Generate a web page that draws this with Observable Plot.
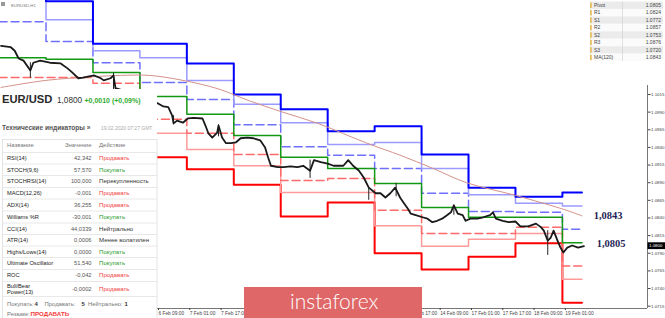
<!DOCTYPE html>
<html><head><meta charset="utf-8">
<script src="https://cdn.jsdelivr.net/npm/d3@7"></script>
<script src="https://cdn.jsdelivr.net/npm/@observablehq/plot@0.6"></script>
<style>
body{margin:0;background:#fff;}
#wrap{position:relative;width:665px;height:318px;overflow:hidden;background:#fff;}
#wrap svg{position:absolute;left:0;top:0;}
</style></head><body><div id="wrap"></div>
<script>
// ---- data (bar index: 0 = 6 Feb 09:00, H1 bars) ----
const dayStart = [-81,-57,-33,-9,15,39,63,87,111,135,159,183,207];
const lastBar = 217;
const r3 = [1.1205,1.1147,1.1087,1.1087,1.1059,1.1015,1.0994,1.0963,1.0970,1.0930,1.0883,1.0870,1.0876];
const r2 = [1.1177,1.1121,1.1077,1.1067,1.1035,1.1001,1.0975,1.0944,1.0947,1.0910,1.0873,1.0861,1.0857];
const r1 = [1.1118,1.1090,1.1060,1.1032,1.1008,1.0972,1.0941,1.0929,1.0910,1.0875,1.0849,1.0848,1.0824];
const pv = [1.1067,1.1065,1.1046,1.1012,1.0987,1.0957,1.0926,1.0910,1.0889,1.0855,1.0841,1.0841,1.0805];
const s1 = [1.1039,1.1039,1.1031,1.0980,1.0960,1.0930,1.0893,1.0896,1.0851,1.0818,1.0818,1.0827,1.0772];
const s2 = [1.0992,1.1008,1.1015,1.0960,1.0937,1.0914,1.0876,1.0876,1.0829,1.0800,1.0810,1.0818,1.0753];
const s3 = [1.0964,1.0982,1.1001,1.0926,1.0909,1.0887,1.0842,1.0862,1.0790,1.0767,1.0785,1.0804,1.0720];

const maBar = [-80,-57,-34,-19,-4,13,31,47,64,82,99,109,124,141,158,183,209,217];
const maVal = [1.1025,1.1035,1.1040,1.1042,1.1042,1.1035,1.1023,1.1006,1.0990,1.0974,1.0955,1.0944,1.0929,1.0910,1.0890,1.0872,1.0851,1.0843];

const priceBar = [-80,-75,-73,-71,-68.5,-65,-63.5,-60,-55,-49.5,-46,-43.5,-40.5,-38,-32.5,-29,-27.5,-24,-22.5,-21.5,-19,0.5,3,5.5,7.5,8.2,10,13,15.5,18.5,23,24.5,26,28,30.5,31.2,33,35,37.5,40,42.5,46,49,52.5,55,56.5,58,61.5,64.5,68,71.5,74.5,78,80,83.5,87,90,95,97.5,100,103,105.5,108,111.5,114,116.5,119,121.5,124,126,128,129.5,132,135.5,138,140.5,143,145.5,148,150,151.5,153.5,156,157.5,160,163.5,166.5,170,171.5,173,176.5,179.5,183,185.5,189.5,193.5,196,197.5,199.5,201,202.5,204.5,206,207.5,209.5,212,215,218];
const priceVal = [1.1084,1.1082,1.1077,1.1066,1.1063,1.1049,1.1060,1.1063,1.1060,1.1059,1.1052,1.1046,1.1038,1.1039,1.1042,1.1038,1.1035,1.1038,1.1042,1.1024,1.1022,1.1002,1.0998,1.0997,1.0985,1.0974,1.0978,1.0975,1.0981,1.0982,1.0981,1.0971,1.0960,1.0954,1.0961,1.0971,1.0954,1.0946,1.0946,1.0947,1.0953,1.0954,1.0953,1.0950,1.0940,1.0926,1.0914,1.0912,1.0912,1.0913,1.0912,1.0914,1.0907,1.0922,1.0919,1.0917,1.0914,1.0914,1.0922,1.0914,1.0907,1.0897,1.0883,1.0875,1.0875,1.0869,1.0875,1.0883,1.0869,1.0861,1.0853,1.0846,1.0844,1.0841,1.0839,1.0834,1.0836,1.0839,1.0844,1.0848,1.0858,1.0846,1.0844,1.0836,1.0839,1.0839,1.0841,1.0844,1.0848,1.0839,1.0836,1.0834,1.0835,1.0828,1.0828,1.0832,1.0827,1.0822,1.0808,1.0812,1.0822,1.0808,1.0798,1.0791,1.0798,1.0801,1.0798,1.0800];

const wickBar = [-65,-22.5,8.2,31.2,78,108,122,151.5,199.5];
const wickHi  = [1.1060,1.1045,1.0985,1.0972,1.0922,1.0883,1.0889,1.0858,1.0822];
const wickLo  = [1.1038,1.1022,1.0972,1.0955,1.0896,1.0865,1.0870,1.0844,1.0787];

const yTicks = [1.0715,1.0740,1.0765,1.0790,1.0815,1.0840,1.0865,1.0890,1.0915,1.0940,1.0965,1.0990,1.1015];
// labels that the logo hides in the reference are left out
const xTickBars = [0,16,32,128,144,160,176,192,208];
const xTickLabels = ["6 Feb 09:00","7 Feb 01:00","7 Feb 17:00","13 Feb 17:00","14 Feb 09:00","17 Feb 01:00","17 Feb 17:00","18 Feb 09:00","19 Feb 01:00"];

const annText = ["1,0843","1,0805"];
const annBar = [223,224.5];
const annVal = [1.0843,1.0804];

const lastPrice = 1.0800;

const pivotLabels = ["Pivot","R1","S1","R2","S2","R3","S3","MA(120)"];
const pivotValues = [1.0805,1.0824,1.0772,1.0857,1.0753,1.0876,1.0720,1.0843];

const indNames = ["RSI(14)","STOCH(9,6)","STOCHRSI(14)","MACD(12,26)","ADX(14)","Williams %R","CCI(14)","ATR(14)","Highs/Lows(14)","Ultimate Oscillator","ROC","Bull/Bear Power(13)"];
const indValues = ["42,342","57,570","100,000","-0,001","36,255","-30,001","44,0339","0,0006","0,0000","51,540","-0,042","-0,0002"];
const indActions = ["Продавать","Покупать","Перекупленность","Продавать","Продавать","Покупать","Нейтрально","Менее волатилен","Покупать","Покупать","Продавать","Продавать"];

// ---- build ----
const steps = vals => dayStart.map((b,i)=>({bar:b, v:vals[i]})).concat([{bar:lastBar, v:vals[vals.length-1]}]);
const maData = maBar.map((b,i)=>({bar:b, v:maVal[i]}));
const priceData = priceBar.map((b,i)=>({bar:b, v:priceVal[i]}));
const wicks = wickBar.map((b,i)=>({bar:b, hi:wickHi[i], lo:wickLo[i]}));
const annots = annText.map((t,i)=>({t, bar:annBar[i], v:annVal[i]}));
const xLab = new Map(xTickBars.map((b,i)=>[b, xTickLabels[i]]));

const lvl = (vals, stroke, w, dash) => Plot.line(steps(vals), {x:"bar", y:"v", curve:"step-after", stroke, strokeWidth:w, strokeDasharray:dash, clip:true});

const plot = Plot.plot({
  width:665, height:318,
  marginTop:0, marginRight:18, marginBottom:10, marginLeft:0,
  x:{domain:[-80.27,250.5], label:null},
  y:{domain:[1.07117,1.11482], label:null},
  style:{fontFamily:"'Liberation Sans', Arial, sans-serif", background:"transparent", overflow:"visible"},
  marks:[
    Plot.ruleY([1.07117], {stroke:"#777", strokeWidth:1}),
    Plot.ruleX([250.5], {stroke:"#777", strokeWidth:1}),
    Plot.axisY({ticks:yTicks, anchor:"right", label:null, tickFormat:d=>d.toFixed(4), fontSize:4.4, tickSize:2.5, tickPadding:1, color:"#444"}),
    Plot.axisX({ticks:xTickBars, anchor:"bottom", label:null, tickFormat:d=>xLab.get(d), fontSize:4.8, tickSize:2, tickPadding:1, textAnchor:"start", dx:1, color:"#444"}),
    lvl(s3, "#ff0000", 2),
    lvl(s2, "#ff9a9a", 1.5),
    lvl(s1, "#ff6a6a", 1.5, "8,4"),
    lvl(r1, "#7070ff", 1.5, "8,4"),
    lvl(r2, "#9a9aff", 1.5),
    lvl(r3, "#0000ff", 2),
    lvl(pv, "#119911", 1.5),
    Plot.line(maData, {x:"bar", y:"v", curve:"catmull-rom", stroke:"#d4928a", strokeWidth:1, clip:true}),
    Plot.ruleX(wicks, {x:"bar", y1:"lo", y2:"hi", stroke:"#222", strokeWidth:1}),
    Plot.line(priceData, {x:"bar", y:"v", stroke:"#1a1a1a", strokeWidth:1.8, clip:true}),
    Plot.text(annots, {x:"bar", y:"v", text:"t", textAnchor:"start", fontFamily:"'Liberation Serif', 'DejaVu Serif', serif", fontWeight:"bold", fontSize:10.5, fill:"#1f1f55"})
  ]
});
const wrap = document.getElementById("wrap");
wrap.appendChild(plot);
const ys = plot.scale("y");

// ---- overlays ----
const svg = d3.create("svg").attr("width",665).attr("height",318)
  .style("font-family","'Liberation Sans', Arial, sans-serif");

// last price tag on axis
const yp = ys.apply(lastPrice);
svg.append("rect").attr("x",647.5).attr("y",yp-3.4).attr("width",17.5).attr("height",6.8).attr("fill","#000");
svg.append("text").attr("x",649).attr("y",yp+1.6).attr("font-size",4.4).attr("fill","#fff").text(lastPrice.toFixed(4));

// top-left symbol caption
svg.append("rect").attr("x",1).attr("y",2).attr("width",4).attr("height",4).attr("fill","#999");
svg.append("text").attr("x",11).attr("y",6.5).attr("font-size",4.3).attr("fill","#777").text("EURUSD,H1");

// pivot table (top right)
svg.append("rect").attr("x",585).attr("y",0).attr("width",80).attr("height",85).attr("fill","#fff");
pivotLabels.forEach((lab,i)=>{
  const top = 1.5 + 7.45*i;
  svg.append("rect").attr("x",590).attr("y",top).attr("width",73).attr("height",7.45).attr("fill", i%2===0 ? "#ebebeb" : "#fbfbfb");
  svg.append("rect").attr("x",590).attr("y",top+1).attr("width",1.8).attr("height",5.5).attr("fill","#e8bd62");
  svg.append("text").attr("x",594).attr("y",top+5.4).attr("font-size",5).attr("fill","#444").text(lab);
  svg.append("text").attr("x",661).attr("y",top+5.4).attr("font-size",5).attr("fill","#444").attr("text-anchor","end").text(pivotValues[i].toFixed(4));
});
svg.append("line").attr("x1",622.5).attr("x2",622.5).attr("y1",1.5).attr("y2",1.5+7.45*8).attr("stroke","#cfcfcf").attr("stroke-width",0.6);

// left widget panel
svg.append("rect").attr("x",0).attr("y",89).attr("width",157).attr("height",229).attr("fill","#fff");
svg.append("text").attr("x",2).attr("y",103).attr("font-size",11.2).attr("font-weight","bold").attr("fill","#2a2a2a").text("EUR/USD");
svg.append("text").attr("x",57).attr("y",103).attr("font-size",8.2).attr("fill","#333").text("1,0800");
svg.append("text").attr("x",84.5).attr("y",102.6).attr("font-size",7).attr("font-weight","bold").attr("fill","#2fae2f").text("+0,0010 (+0,09%)");
svg.append("text").attr("x",2).attr("y",130).attr("font-size",6.6).attr("font-weight","bold").attr("fill","#555").text("Технические индикаторы »");
svg.append("text").attr("x",101).attr("y",130).attr("font-size",5).attr("fill","#aaa").text("19.02.2020 07:27 GMT");

// indicator table
svg.append("rect").attr("x",2.5).attr("y",139.5).attr("width",154.5).attr("height",185).attr("fill","none").attr("stroke","#dcdcdc").attr("stroke-width",0.8);
svg.append("text").attr("x",7).attr("y",147.3).attr("font-size",6).attr("fill","#777").text("Название");
svg.append("text").attr("x",91.5).attr("y",147.3).attr("font-size",6).attr("fill","#777").attr("text-anchor","end").text("Значение");
svg.append("text").attr("x",99).attr("y",147.3).attr("font-size",6).attr("fill","#777").text("Действие");
const rowEdges = [152,163.5,175,187,198.5,210.5,222.5,234,245.5,257,269,281,296];
rowEdges.forEach(e=>{
  svg.append("line").attr("x1",2.5).attr("x2",157).attr("y1",e+0.5).attr("y2",e+0.5).attr("stroke","#e2e2e2").attr("stroke-width",0.8);
});
indNames.forEach((n,i)=>{
  const c = (rowEdges[i]+rowEdges[i+1])/2 + 2.3;
  if (n.startsWith("Bull/Bear")) {
    svg.append("text").attr("x",7).attr("y",c-3.2).attr("font-size",5.7).attr("fill","#222").text("Bull/Bear");
    svg.append("text").attr("x",7).attr("y",c+3.2).attr("font-size",5.7).attr("fill","#222").text("Power(13)");
  } else {
    svg.append("text").attr("x",7).attr("y",c).attr("font-size",5.7).attr("fill","#222").text(n);
  }
  svg.append("text").attr("x",91.5).attr("y",c).attr("font-size",5.7).attr("fill","#555").attr("text-anchor","end").text(indValues[i]);
  const a = indActions[i];
  const col = a==="Продавать" ? "#f23a3a" : a==="Покупать" ? "#2a9d2a" : "#333";
  svg.append("text").attr("x",99).attr("y",c).attr("font-size",6.1).attr("fill",col).text(a);
});
const summ = [["Покупать:",7],["4",34.5,true],["Продавать:",44.5],["5",81.5,true],["Нейтрально:",88],["1",124.5,true]];
summ.forEach(([t,x,b])=>{
  svg.append("text").attr("x",x).attr("y",306).attr("font-size",5.9).attr("fill", b ? "#333" : "#777").attr("font-weight", b ? "bold" : "normal").text(t);
});
svg.append("text").attr("x",7).attr("y",315.5).attr("font-size",5.9).attr("fill","#777").text("Резюме:");
svg.append("text").attr("x",30.5).attr("y",315.5).attr("font-size",6.2).attr("font-weight","bold").attr("fill","#f23a3a").text("ПРОДАВАТЬ");

// instaforex logo
svg.append("rect").attr("x",244).attr("y",287).attr("width",178).attr("height",31).attr("fill","#e06767");
svg.append("text").attr("x",290).attr("y",308.5).attr("font-size",21).attr("font-family","Lato, 'Open Sans', sans-serif").attr("font-weight",300).attr("fill","#fff").text("instaforex");

wrap.appendChild(svg.node());
</script>
</body></html>
